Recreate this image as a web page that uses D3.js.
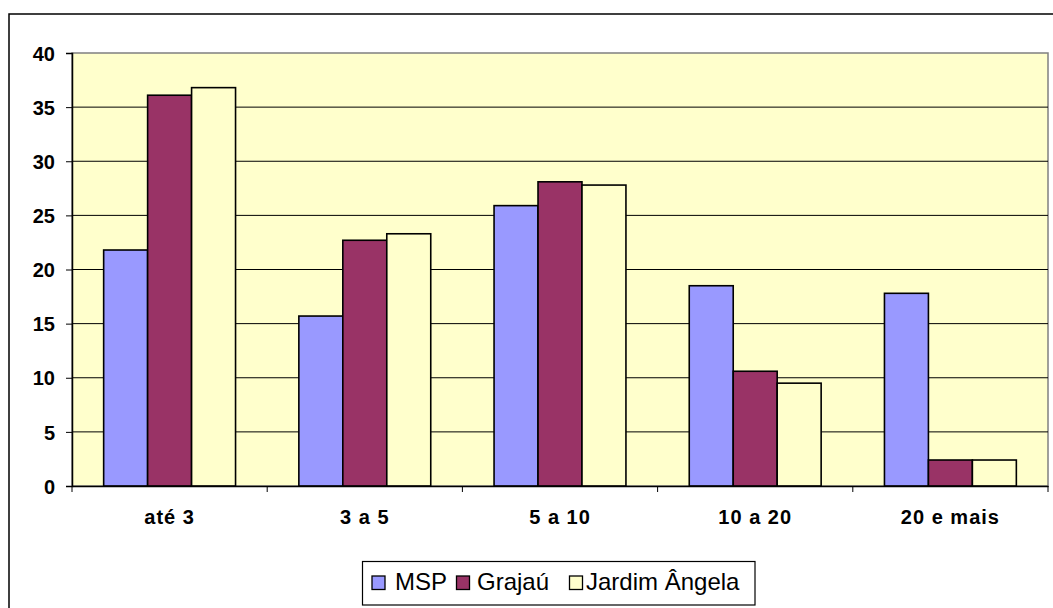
<!DOCTYPE html>
<html>
<head>
<meta charset="utf-8">
<script src="https://cdn.jsdelivr.net/npm/d3@7"></script>
<style>
  html, body { margin: 0; padding: 0; background: #fff; }
  svg { display: block; }
</style>
</head>
<body>
<svg id="chart" width="1053" height="608"></svg>
<script>
const categories = ["até 3", "3 a 5", "5 a 10", "10 a 20", "20 e mais"];
const seriesNames = ["MSP", "Grajaú", "Jardim Ângela"];
const msp = [21.8, 15.7, 25.9, 18.5, 17.8];
const grajau = [36.1, 22.7, 28.1, 10.6, 2.4];
const jardim = [36.8, 23.3, 27.8, 9.5, 2.4];
const yTicks = [0, 5, 10, 15, 20, 25, 30, 35, 40];
const colors = ["#9999FF", "#993366", "#FFFFCC"];

(function () {
const seriesValues = [msp, grajau, jardim];
const svg = d3.select("#chart");
const pL = 72, pR = 1048, pT = 53, pB = 486;
const font = "Liberation Sans, Arial, sans-serif";

// outer frame
svg.append("rect").attr("x", 9).attr("y", 14).attr("width", 1200).attr("height", 800)
  .attr("fill", "#fff").attr("stroke", "#000").attr("stroke-width", 1.5);

const x0 = d3.scaleBand().domain(categories).range([pL, pR]).paddingInner(0).paddingOuter(0);
const x1 = d3.scaleBand().domain(seriesNames).range([0, x0.bandwidth()]).paddingInner(0).paddingOuter(0.72);
const y = d3.scaleLinear().domain([0, 40]).range([pB, pT]);

// plot area
svg.append("rect").attr("x", pL).attr("y", pT).attr("width", pR - pL).attr("height", pB - pT)
  .attr("fill", "#FFFFCC").attr("stroke", "#808080").attr("stroke-width", 1.5);

// gridlines
svg.append("g").selectAll("line").data(yTicks.filter(d => d > 0 && d < 40)).join("line")
  .attr("x1", pL).attr("x2", pR).attr("y1", d => y(d)).attr("y2", d => y(d))
  .attr("stroke", "#000").attr("stroke-width", 1);

// bars
const groups = svg.append("g").selectAll("g").data(categories).join("g")
  .attr("transform", c => `translate(${x0(c)},0)`);
groups.selectAll("rect").data((c, i) => seriesNames.map((s, j) => ({ s, j, v: seriesValues[j][i] }))).join("rect")
  .attr("x", d => x1(d.s)).attr("width", x1.bandwidth())
  .attr("y", d => y(d.v)).attr("height", d => y(0) - y(d.v))
  .attr("fill", d => colors[d.j]).attr("stroke", "#000").attr("stroke-width", 1.6);

// y axis
const yAxis = d3.axisLeft(y).tickValues(yTicks).tickSize(6).tickPadding(11);
const ya = svg.append("g").attr("transform", `translate(${pL},0)`).call(yAxis);
ya.select(".domain").attr("stroke", "#000").attr("stroke-width", 1.5);
ya.selectAll(".tick line").attr("stroke", "#000").attr("stroke-width", 1);
ya.selectAll(".tick text").attr("font-family", font)
  .attr("font-size", 20).attr("font-weight", "bold").attr("fill", "#000").attr("dy", "0.36em");

// x axis
const xAxis = d3.axisBottom(x0).tickSize(0).tickPadding(0);
const xa = svg.append("g").attr("transform", `translate(0,${pB})`).call(xAxis);
xa.select(".domain").attr("stroke", "#000").attr("stroke-width", 1.5);
xa.selectAll(".tick text").attr("font-family", font)
  .attr("font-size", 20).attr("font-weight", "bold").attr("fill", "#000")
  .attr("letter-spacing", "1px")
  .attr("y", 38).attr("dy", 0);
const bounds = categories.map(c => x0(c)).concat([pR]);
svg.append("g").selectAll("line").data(bounds).join("line")
  .attr("x1", d => d).attr("x2", d => d).attr("y1", pB).attr("y2", pB + 6)
  .attr("stroke", "#000").attr("stroke-width", 1);

// legend
const lg = svg.append("g");
lg.append("rect").attr("x", 362.5).attr("y", 561.5).attr("width", 392.5).attr("height", 43.5)
  .attr("fill", "#fff").attr("stroke", "#000").attr("stroke-width", 1.2);
const swatchX = [372, 456.5, 569.5];
const textX = [395, 477, 586];
seriesNames.forEach((s, j) => {
  lg.append("rect").attr("x", swatchX[j]).attr("y", 576).attr("width", 13).attr("height", 13.5)
    .attr("fill", colors[j]).attr("stroke", "#000").attr("stroke-width", 1.3);
  lg.append("text").attr("x", textX[j]).attr("y", 590)
    .attr("font-family", font).attr("font-size", 24)
    .attr("fill", "#000").text(s);
});
})();
</script>
</body>
</html>
